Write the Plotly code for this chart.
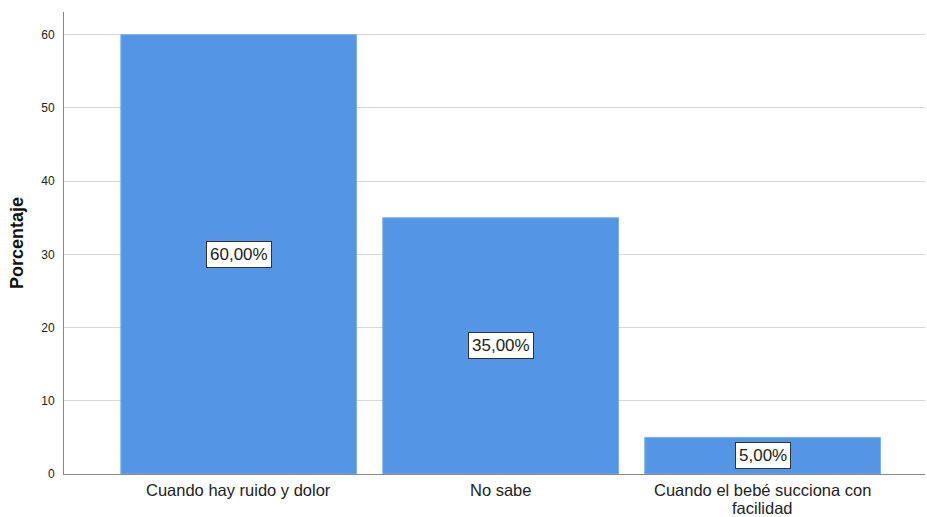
import plotly.graph_objects as go

categorias = ["Cuando hay ruido y dolor", "No sabe", "Cuando el bebé succiona con facilidad"]
lineas_categoria = [["Cuando hay ruido y dolor"], ["No sabe"], ["Cuando el bebé succiona con", "facilidad"]]
porcentajes = [60.0, 35.0, 5.0]
etiquetas = ["60,00%", "35,00%", "5,00%"]
ticks_y = [0, 10, 20, 30, 40, 50, 60]

FONT = "Liberation Sans, Arial, sans-serif"
AZUL = "#5595E5"

fig = go.Figure()
fig.add_trace(go.Bar(
    x=list(range(len(categorias))),
    y=porcentajes,
    width=0.9,
    marker=dict(color=AZUL, line=dict(color="#7EAEEA", width=1)),
    hoverinfo="skip",
))

# value boxes centred on each bar
for i, (v, t) in enumerate(zip(porcentajes, etiquetas)):
    fig.add_annotation(
        x=i, y=v / 2, text=t, showarrow=False,
        font=dict(family=FONT, size=17, color="#222222"),
        bgcolor="white", bordercolor="#333333", borderwidth=1, borderpad=3,
    )

# category labels under the axis, wrapped with a tight line height
for i, lineas in enumerate(lineas_categoria):
    for k, linea in enumerate(lineas):
        fig.add_annotation(
            x=i, xref="x", y=0, yref="paper", yanchor="top",
            yshift=-6 - 18 * k, borderpad=0,
            text=linea, showarrow=False,
            font=dict(family=FONT, size=16.5, color="#222222"),
        )

fig.update_layout(
    width=927, height=517,
    margin=dict(l=64, r=2, t=12, b=43),
    plot_bgcolor="white", paper_bgcolor="white",
    showlegend=False,
    font=dict(family=FONT, color="#222222"),
    bargap=0.1,
)
fig.update_xaxes(
    range=[-0.667, 2.62],
    tickmode="array", tickvals=list(range(len(categorias))), ticktext=categorias,
    showticklabels=False,
    showline=True, linecolor="#888888", linewidth=1,
    showgrid=False, ticks="", zeroline=False, automargin=False,
)
fig.update_yaxes(
    range=[0, 63.1],
    tickmode="array", tickvals=ticks_y,
    tickfont=dict(size=12, color="#222222"),
    showline=True, linecolor="#888888", linewidth=1,
    showgrid=True, gridcolor="#D6D6D6", gridwidth=1,
    ticks="", ticklabelstandoff=6, zeroline=False, automargin=False,
    title=dict(text="<b>Porcentaje</b>", font=dict(size=18, color="#111111"), standoff=12),
)

fig.write_html("out.html")
